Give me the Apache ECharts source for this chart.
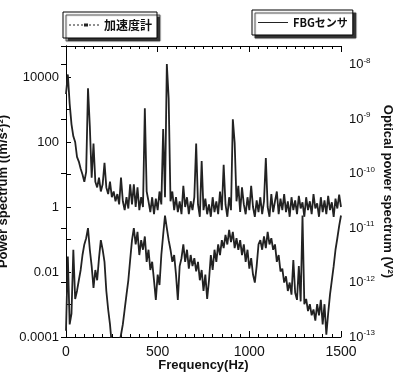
<!DOCTYPE html>
<html>
<head>
<meta charset="utf-8">
<script src="https://cdn.jsdelivr.net/npm/echarts@6/dist/echarts.min.js"></script>
<style>
html, body { margin: 0; padding: 0; background: #fff; }
#main { width: 406px; height: 376px; }
</style>
</head>
<body>
<div id="main"></div>
<script>
// frequency grid, 10 Hz steps from 0 to 1500 Hz
var stepHz = 10;
var freqHz = [];
for (var f = 0; f <= 1500; f += stepHz) freqHz.push(f);

// accelerometer power spectrum (left axis)
var accelPsd = [
	3000, 12000, 1500, 350, 150, 100, 35, 25, 15, 10,
	6, 12, 4500, 300, 8, 90, 6, 4, 8, 3,
	5, 23, 4, 2.5, 6, 2, 3, 1.5, 2.5, 1.2,
	8, 1.5, 0.8, 2, 0.9, 5, 1.2, 5, 1, 4,
	0.8, 2, 1, 1100, 3, 1.5, 0.7, 2, 0.6, 1.8,
	0.8, 3, 1.2, 250, 2, 25000, 2200, 1.5, 3, 0.8,
	2, 0.7, 1.5, 0.6, 4.5, 1, 2, 0.6, 1.5, 0.8,
	2, 90, 1.2, 0.5, 26, 0.8, 1.8, 0.6, 1.2, 0.5,
	2, 0.7, 1.5, 0.6, 3, 0.8, 20, 1.2, 0.5, 2,
	0.8, 500, 95, 1.5, 4.5, 0.7, 4, 1.2, 0.6, 2,
	0.8, 4.5, 1, 0.5, 1.6, 0.7, 2, 0.6, 1.5, 32,
	1, 0.5, 2.5, 0.7, 1.5, 3, 0.6, 1.8, 0.8, 2.5,
	0.7, 1.5, 0.5, 2, 0.8, 1.6, 0.6, 2.2, 0.9, 1.4,
	0.5, 2, 0.8, 1.5, 0.6, 2.5, 0.9, 1.3, 0.5, 2,
	0.7, 1.6, 0.6, 2.2, 0.8, 1.4, 0.5, 1.8, 0.9, 2.4,
	1
];

// FBG sensor optical power spectrum (right axis), in units of 1e-12 V^2
var fbgPsd = [
	0.13, 3, 0.17, 0.27, 4, 0.5, 0.7, 1.1, 1.7, 3.2,
	5, 6.5, 10, 4, 2, 0.8, 1.7, 1.1, 2.8, 6,
	4, 2.4, 0.7, 0.32, 0.17, 0.07, 0.05, 0.05, 0.05, 0.05,
	0.11, 0.17, 0.32, 0.6, 1.1, 2.6, 6, 10, 5, 8.5,
	3.2, 6, 4, 7, 2.4, 4, 1.7, 2.4, 1.1, 0.48,
	1.4, 0.9, 3.2, 7.5, 17, 10, 6, 4, 2.4, 3.2,
	1.4, 0.48, 2, 2.8, 5, 2.4, 4, 1.8, 3.2, 2,
	2.8, 1.6, 2.4, 1.1, 1.7, 0.7, 1.4, 0.5, 1.1, 3.2,
	1.7, 4, 2.4, 5, 3.2, 6, 4.3, 7.5, 5, 9.3,
	5.5, 8.5, 4.3, 6.5, 4, 6, 3.2, 5, 2.4, 4,
	1.8, 2.8, 1.4, 1.0, 2, 5, 6, 4, 7, 4.3,
	8.5, 5, 6.5, 4, 5, 2.4, 3.2, 1.6, 1.8, 1.0,
	1.3, 0.7, 1.0, 0.6, 2.6, 0.65, 0.48, 2, 0.45, 17,
	0.4, 0.5, 0.3, 0.4, 0.25, 0.32, 0.2, 0.4, 0.25, 0.48,
	0.17, 0.4, 0.11, 0.27, 0.6, 1.1, 2, 4, 6.5, 11,
	17
];

var xTicks = [0, 500, 1000, 1500];
var seriesNames = ['加速度計', 'FBGセンサ'];

var font = 'Liberation Sans';
var jpFont = 'Noto Sans CJK JP';

// legend glyphs: dotted line with a small block, and a plain line
var iconDotted = 'path://M0,4h2v1h-2z M4,4h2v1h-2z M8,4h2v1h-2z M12,4h2v1h-2z M15,3h4v3h-4z M20,4h2v1h-2z M24,4h2v1h-2z M28,4h2v1h-2z';
var iconSolid = 'path://M0,4h30v1h-30z';

function decadeExp(v) {
	var e = Math.log10(v);
	var r = Math.round(e);
	if (Math.abs(e - r) > 1e-6) return null;
	return r;
}

window.onload = function() {
	var c = echarts.init(document.getElementById('main'));
	var accelData = [], fbgData = [];
	for (var i = 0; i < freqHz.length; i++) {
		accelData.push([freqHz[i], accelPsd[i]]);
		fbgData.push([freqHz[i], fbgPsd[i] * 1e-12]);
	}
	var lineColor = '#222';
	var legendBase = {
		orient: 'horizontal',
		backgroundColor: '#fff',
		borderColor: '#000',
		borderWidth: 1,
		borderRadius: 0,
		padding: [7, 5, 7, 6],
		itemWidth: 30,
		itemHeight: 9,
		itemGap: 4,
		shadowColor: '#333',
		shadowBlur: 1,
		shadowOffsetX: 3,
		shadowOffsetY: 3
	};
	var e = {
		animation: false,
		legend: [
			Object.assign({}, legendBase, {
				left: 63, top: 12,
				data: [{ name: seriesNames[0], icon: iconDotted }],
				textStyle: { fontFamily: jpFont, fontSize: 12, fontWeight: 'bold', color: '#111' }
			}),
			Object.assign({}, legendBase, {
				left: 252, top: 10,
				data: [{ name: seriesNames[1], icon: iconSolid }],
				textStyle: { fontFamily: jpFont, fontSize: 11, fontWeight: 'bold', color: '#111' }
			})
		],
		grid: { left: 66, right: 65, top: 46, bottom: 39, containLabel: false, outerBoundsMode: 'none' },
		xAxis: [
			{
				type: 'value',
				min: xTicks[0], max: xTicks[xTicks.length - 1], interval: 500,
				name: 'Frequency(Hz)',
				nameLocation: 'middle',
				nameGap: 22,
				nameMoveOverlap: false,
				nameTextStyle: { fontFamily: font, fontSize: 13, fontWeight: 'bold', color: '#111' },
				axisLine: { lineStyle: { color: '#000', width: 1 } },
				axisTick: { inside: true, length: 6, lineStyle: { color: '#000' } },
				minorTick: { show: true, splitNumber: 10, length: 3, lineStyle: { color: '#000' } },
				axisLabel: {
					fontFamily: font, fontSize: 14, color: '#111', margin: 8,
					formatter: function(v) { return String(v); }
				},
				splitLine: { show: false }
			},
			{
				type: 'value', position: 'top',
				min: xTicks[0], max: xTicks[xTicks.length - 1], interval: 500,
				axisLine: { lineStyle: { color: '#000', width: 1 } },
				axisTick: { inside: true, length: 6, lineStyle: { color: '#000' } },
				minorTick: { show: true, splitNumber: 10, length: 3, lineStyle: { color: '#000' } },
				axisLabel: { show: false },
				splitLine: { show: false }
			}
		],
		yAxis: [
			{
				type: 'log', logBase: 10,
				min: 1e-4, max: 9e4,
				position: 'left',
				name: 'Power spectrum ((m/s²)²)',
				nameLocation: 'middle',
				nameRotate: 90,
				nameGap: 56,
				nameMoveOverlap: false,
				nameTextStyle: { fontFamily: font, fontSize: 13, fontWeight: 'bold', color: '#111' },
				axisLine: { lineStyle: { color: '#000', width: 1 } },
				axisTick: { inside: true, length: 5, lineStyle: { color: '#000' } },
				axisLabel: {
					fontFamily: font, fontSize: 13, color: '#111', margin: 7,
					formatter: function(v) {
						var r = decadeExp(v);
						if (r === null || r % 2 !== 0) return '';
						return r < 0 ? v.toFixed(-r) : String(Math.round(v));
					}
				},
				splitLine: { show: false }
			},
			{
				type: 'log', logBase: 10,
				min: 1e-13, max: 2.2e-8,
				position: 'right',
				name: 'Optical power spectrum (V²)',
				nameLocation: 'middle',
				nameRotate: -90,
				nameGap: 40,
				nameMoveOverlap: false,
				nameTextStyle: { fontFamily: font, fontSize: 13, fontWeight: 'bold', color: '#111' },
				axisLine: { lineStyle: { color: '#000', width: 1 } },
				axisTick: { inside: true, length: 5, lineStyle: { color: '#000' } },
				axisLabel: {
					fontFamily: font, fontSize: 13, color: '#111', margin: 8,
					formatter: function(v) {
						var r = decadeExp(v);
						if (r === null) return '';
						return '10{sup|' + r + '}';
					},
					rich: {
						sup: { fontFamily: font, fontSize: 8, color: '#111', verticalAlign: 'top', padding: [0, 0, 8, 0] }
					}
				},
				splitLine: { show: false }
			}
		],
		series: [
			{
				name: seriesNames[0],
				type: 'line',
				xAxisIndex: 0, yAxisIndex: 0,
				data: accelData,
				showSymbol: false,
				symbol: 'none',
				color: lineColor,
				lineStyle: { color: lineColor, width: 1.8 },
				clip: true
			},
			{
				name: seriesNames[1],
				type: 'line',
				xAxisIndex: 0, yAxisIndex: 1,
				data: fbgData,
				showSymbol: false,
				symbol: 'none',
				color: lineColor,
				lineStyle: { color: lineColor, width: 1.8 },
				clip: true
			}
		]
	};
	c.setOption(e);
};
</script>
</body>
</html>
